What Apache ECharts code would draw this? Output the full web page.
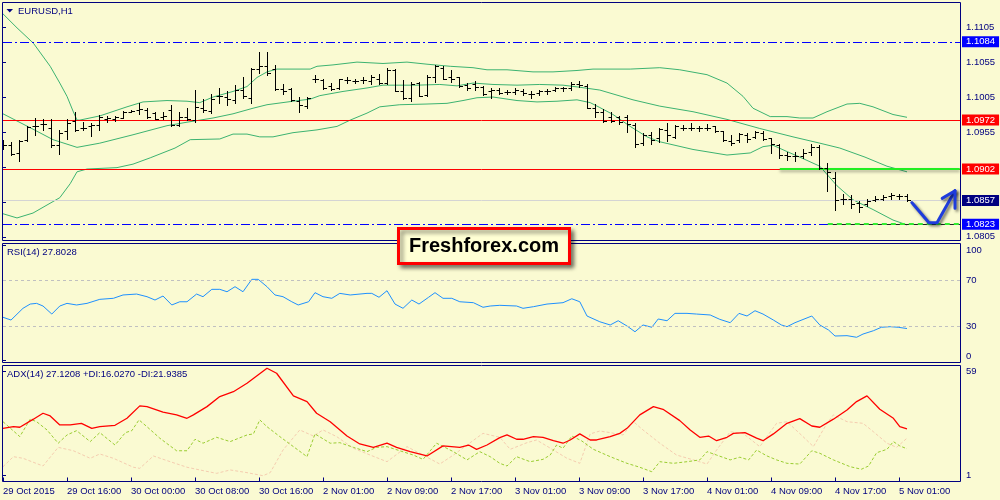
<!DOCTYPE html>
<html><head><meta charset="utf-8">
<script src="https://cdn.jsdelivr.net/npm/echarts@6.0.0/dist/echarts.min.js"></script>
<style>html,body{margin:0;padding:0;background:#FAFAD2}#c{width:1000px;height:500px}</style>
</head><body><div id="c"></div>
<script>
// ---- data ----
const tickLabels = ['29 Oct 2015','29 Oct 16:00','30 Oct 00:00','30 Oct 08:00','30 Oct 16:00','2 Nov 01:00','2 Nov 09:00','2 Nov 17:00','3 Nov 01:00','3 Nov 09:00','3 Nov 17:00','4 Nov 01:00','4 Nov 09:00','4 Nov 17:00','5 Nov 01:00'];
const opens = [
1.0935,1.0936,1.0925,1.0944,1.0964,1.0967,1.0960,1.0936,1.0956,1.0971,
1.0960,1.0964,1.0965,1.0974,1.0974,1.0975,1.0984,1.0987,1.0987,1.0982,
1.0977,1.0987,1.0965,1.0976,1.0972,1.0990,1.0985,1.1006,1.1005,1.1001,
1.1015,1.1003,1.1045,1.1050,1.1045,1.1016,1.1016,1.1000,1.0992,1.1031,
1.1030,1.1021,1.1018,1.1030,1.1028,1.1029,1.1028,1.1031,1.1025,1.1044,
1.1014,1.1003,1.1025,1.1008,1.1033,1.1047,1.1033,1.1033,1.1022,1.1023,
1.1020,1.1013,1.1015,1.1012,1.1012,1.1014,1.1009,1.1011,1.1013,1.1015,
1.1018,1.1018,1.1023,1.1021,1.0990,1.0983,1.0977,1.0976,1.0977,1.0965,
1.0939,1.0950,1.0946,1.0958,1.0948,1.0961,1.0961,1.0960,1.0961,1.0963,
1.0956,1.0942,1.0944,1.0950,1.0948,1.0953,1.0946,1.0937,1.0922,1.0921,
1.0920,1.0926,1.0934,1.0904,1.0889,1.0859,1.0859,1.0854,1.0852,1.0857,
1.0859,1.0863,1.0864,1.0864];
const highs = [
1.0944,1.0941,1.0944,1.0964,1.0975,1.0974,1.0973,1.0958,1.0974,1.0984,
1.0970,1.0968,1.0980,1.0978,1.0978,1.0985,1.0987,1.0996,1.0989,1.0984,
1.0984,1.0994,1.0983,1.0989,1.1015,1.1002,1.1010,1.1018,1.1014,1.1022,
1.1034,1.1046,1.1070,1.1070,1.1051,1.1023,1.1018,1.1005,1.1005,1.1036,
1.1031,1.1025,1.1031,1.1033,1.1031,1.1033,1.1036,1.1038,1.1047,1.1045,
1.1030,1.1027,1.1027,1.1037,1.1051,1.1049,1.1043,1.1034,1.1025,1.1028,
1.1021,1.1018,1.1018,1.1015,1.1018,1.1016,1.1013,1.1015,1.1017,1.1019,
1.1020,1.1026,1.1028,1.1023,1.0995,1.0988,1.0984,1.0978,1.0980,1.0968,
1.0953,1.0955,1.0961,1.0968,1.0965,1.0965,1.0968,1.0964,1.0966,1.0964,
1.0957,1.0950,1.0953,1.0953,1.0957,1.0956,1.0947,1.0938,1.0927,1.0927,
1.0931,1.0938,1.0936,1.0910,1.0898,1.0866,1.0865,1.0856,1.0859,1.0863,
1.0865,1.0868,1.0866,1.0866];
const lows = [
1.0930,1.0922,1.0914,1.0942,1.0951,1.0958,1.0934,1.0924,1.0945,1.0957,
1.0958,1.0949,1.0958,1.0970,1.0971,1.0975,1.0983,1.0981,1.0975,1.0973,
1.0974,1.0964,1.0964,1.0972,1.0970,1.0984,1.0982,1.0996,1.0994,1.0996,
1.1003,1.0997,1.1039,1.1037,1.1015,1.1010,1.1000,1.0984,1.0989,1.1027,
1.1017,1.1015,1.1017,1.1025,1.1025,1.1025,1.1023,1.1023,1.1023,1.1013,
1.1002,1.1000,1.1006,1.1006,1.1027,1.1031,1.1026,1.1020,1.1015,1.1015,
1.1008,1.1003,1.1009,1.1009,1.1009,1.1008,1.1004,1.1008,1.1009,1.1013,
1.1014,1.1015,1.1020,1.0989,1.0976,1.0970,1.0969,1.0966,1.0955,1.0934,
1.0937,1.0938,1.0941,1.0942,1.0946,1.0958,1.0958,1.0957,1.0958,1.0955,
1.0942,1.0937,1.0941,1.0941,1.0946,1.0944,1.0925,1.0918,1.0915,1.0914,
1.0918,1.0922,1.0902,1.0870,1.0843,1.0852,1.0846,1.0841,1.0849,1.0856,
1.0857,1.0859,1.0859,1.0856];
const closes = [
1.0936,1.0924,1.0942,1.0962,1.0963,1.0967,1.0936,1.0954,1.0968,1.0958,
1.0960,1.0965,1.0977,1.0975,1.0977,1.0984,1.0985,1.0988,1.0976,1.0974,
1.0978,1.0965,1.0977,1.0973,1.0991,1.0987,1.1002,1.1006,1.1002,1.1015,
1.1006,1.1045,1.1049,1.1039,1.1016,1.1014,1.1001,1.0994,1.1003,1.1031,
1.1018,1.1017,1.1031,1.1030,1.1028,1.1030,1.1033,1.1025,1.1044,1.1014,
1.1003,1.1023,1.1007,1.1034,1.1049,1.1031,1.1031,1.1021,1.1018,1.1020,
1.1009,1.1015,1.1011,1.1012,1.1015,1.1011,1.1009,1.1013,1.1014,1.1018,
1.1018,1.1023,1.1022,1.0990,1.0983,1.0971,1.0971,1.0970,1.0966,1.0938,
1.0951,1.0944,1.0959,1.0950,1.0963,1.0961,1.0961,1.0960,1.0961,1.0957,
1.0944,1.0939,1.0952,1.0945,1.0955,1.0945,1.0938,1.0922,1.0920,1.0921,
1.0925,1.0934,1.0904,1.0898,1.0858,1.0859,1.0852,1.0848,1.0856,1.0859,
1.0862,1.0865,1.0863,1.0857];

const upperBand = [[0,1.1124],[1.75,1.1104],[3.8,1.1082],[5.9,1.1049],[7.1,1.1025],[8,1.1006],[8.75,1.0985],[9.25,1.0972],[9.6,1.0972],[12.1,1.0978],[15.5,1.0991],[17.5,1.0998],[20.5,1.1000],[23,1.0999],[24.6,1.0997],[26.25,1.1005],[28.75,1.1013],[30.5,1.1020],[31.75,1.1033],[33,1.1041],[34.25,1.1045],[38.4,1.1045],[39.25,1.1049],[41.25,1.1051],[44.25,1.1055],[47.5,1.1053],[50.5,1.1055],[53,1.1052],[55.9,1.1049],[58.75,1.1047],[60.5,1.1044],[63,1.1044],[66.25,1.1041],[68.75,1.1041],[71.75,1.1043],[73.75,1.1045],[78.4,1.1045],[82.1,1.1047],[84.6,1.1044],[88,1.1037],[90.5,1.1025],[92.5,1.1006],[93.75,1.0989],[95.9,1.0977],[98,1.0977],[99.6,1.0975],[101.25,1.0975],[103,1.0984],[105.5,1.0995],[107.1,1.0996],[108.75,1.0991],[111.25,1.0980],[113,1.0976]];
const middleBand = [[0,1.0981],[3.75,1.0959],[6.25,1.0944],[9.25,1.0933],[12.1,1.0939],[16.25,1.0951],[20.5,1.0964],[23,1.0969],[26.25,1.0975],[28.75,1.0981],[31.25,1.0989],[33,1.0994],[36.25,1.0999],[38.4,1.1002],[39.6,1.1007],[42.5,1.1013],[45.5,1.1018],[47.5,1.1022],[51.75,1.1022],[54.6,1.1023],[56.75,1.1021],[58.75,1.1025],[61.25,1.1023],[64.25,1.1022],[67.1,1.1023],[70,1.1022],[72.1,1.1019],[74.6,1.1015],[78.75,1.1001],[82.1,1.0992],[86.25,1.0984],[90.5,1.0973],[94.6,1.0960],[98.75,1.0948],[102.1,1.0939],[104.6,1.0932],[107.75,1.0919],[110.5,1.0906],[113,1.0898]];
const lowerBand = [[0,1.0838],[1.75,1.0832],[3.75,1.0839],[7.1,1.0861],[8.4,1.0881],[9.25,1.0898],[10.5,1.0902],[14.25,1.0904],[16.25,1.0909],[18.4,1.0918],[21.5,1.0932],[23.4,1.0944],[27.1,1.0945],[28.75,1.0952],[30.5,1.0952],[32.1,1.0948],[33.75,1.0948],[36.25,1.0954],[39.25,1.0958],[41.75,1.0963],[43.4,1.0972],[45.5,1.0982],[47.1,1.0991],[49.6,1.0994],[53,1.0995],[55.5,1.0996],[57.5,1.1000],[59.25,1.1004],[61.25,1.1005],[64.25,1.1000],[66.75,1.0998],[69.25,1.0999],[71.75,1.1001],[73.4,1.0997],[74.6,1.0990],[76.25,1.0980],[78.4,1.0963],[80.5,1.0948],[82.1,1.0941],[86.25,1.0930],[90.5,1.0922],[93.4,1.0925],[95,1.0934],[96.25,1.0936],[98,1.0927],[99.6,1.0919],[102.1,1.0906],[104.25,1.0878],[106.25,1.0858],[108.75,1.0844],[111.25,1.0829],[113,1.0822]];

const rsi = [[0,37.6],[1,35.2],[2.5,45.4],[3.4,49.1],[4.2,49.7],[5,47.4],[6.1,40.4],[7.1,47.4],[8,49.7],[9.2,48.3],[10.5,49.7],[12.1,53.2],[13.8,54.1],[15,57.0],[16.7,57.8],[18,55.5],[19,52.6],[20,56.1],[21.1,48.3],[22.1,51.1],[23,51.1],[24.2,57.8],[25,55.5],[26.1,61.9],[27.1,61.9],[28,59.8],[29,64.2],[30,59.8],[31.1,70.6],[31.9,70.6],[33,64.2],[34,57.0],[35,55.5],[36.1,51.1],[36.9,48.3],[38.2,51.1],[39,59.0],[40,55.5],[41.1,54.1],[42.1,58.4],[43.4,57.0],[45.5,58.4],[46.1,58.4],[47,55.0],[48,60.7],[49,49.1],[50,45.4],[51.1,52.6],[52,49.1],[53.2,55.0],[54,59.0],[55,54.1],[56.1,54.1],[57.1,51.1],[58.8,50.3],[60,46.3],[60.9,47.4],[62.1,48.0],[64.2,47.4],[65,45.4],[66.3,46.8],[68,49.1],[70,50.3],[71.1,53.7],[72.1,51.1],[73,38.7],[74.6,33.7],[75.9,30.9],[76.9,34.6],[78,30.0],[79,25.0],[80,30.9],[81.1,28.9],[81.9,36.1],[83,34.6],[84,41.0],[85.5,41.0],[86.7,40.4],[88.4,39.6],[89.6,35.8],[90.9,32.9],[92,41.0],[93,38.7],[94,43.3],[95,40.4],[96.3,35.2],[97.3,30.9],[98,29.4],[99,32.9],[101.1,38.7],[102.1,30.9],[103.2,26.5],[104,21.3],[105.5,21.6],[106.7,20.2],[107.5,23.0],[108.8,25.9],[109.8,28.9],[110.9,29.4],[111.9,28.9],[113,27.8]];
const rsiLevels = [70, 30];

const adx = [[0,27.4],[1.3,28.3],[2.1,28.0],[3.8,32.5],[5,35.8],[5.9,34.3],[7.1,29.3],[8.4,29.3],[9.8,30.2],[11.1,27.4],[12.1,28.3],[14,29.1],[15.5,33.0],[17.1,39.9],[18,39.5],[20,36.4],[21.7,34.9],[23,33.0],[23.8,34.9],[25.5,39.5],[27.1,45.1],[28.8,47.8],[30.5,52.5],[33,60.9],[34.2,58.1],[36.3,45.5],[38,42.3],[39.2,35.8],[40.9,31.1],[43,23.1],[44.6,18.7],[46.3,16.8],[48,19.1],[49.2,16.8],[50.9,14.4],[53,12.0],[55,17.6],[57.1,16.8],[58.2,18.1],[59.2,15.7],[60.5,18.1],[62.1,22.2],[63,23.7],[64.2,21.3],[65,21.3],[66.3,22.8],[67.5,22.4],[68.8,20.5],[70,19.1],[70.9,20.9],[72.1,24.3],[73.4,20.9],[74.2,20.9],[75.9,22.8],[77.1,24.6],[78,27.4],[79.6,34.9],[81.3,39.5],[82.5,38.0],[84.6,31.7],[85.9,26.5],[87.1,22.4],[88.2,23.1],[89.2,20.5],[90.5,22.4],[91.3,24.6],[92.75,25.0],[94.2,21.9],[95,20.5],[96.3,24.3],[98,30.2],[99.6,32.8],[101.1,28.7],[102.1,28.0],[103.8,32.5],[105.5,37.6],[106.7,42.3],[108,45.5],[109.6,38.0],[111.3,33.0],[112.1,28.3],[113,27.1]];
const plusDI = [[0,31.1],[2.1,22.8],[3.4,32.5],[4.2,31.1],[5.5,26.5],[6.9,19.1],[8,23.7],[9.2,26.1],[10.9,20.0],[12.1,25.0],[14,18.1],[15.3,25.0],[16.1,26.1],[17,32.1],[18,28.3],[19.6,21.9],[21.7,14.9],[23,14.9],[24,21.3],[25,19.1],[26.7,22.4],[28.4,20.0],[30.5,23.7],[31.3,24.3],[32.1,32.1],[33,28.3],[34.6,22.8],[36.3,17.2],[38,11.6],[39,24.3],[40.9,19.1],[42.1,19.4],[43.8,16.8],[45.5,14.4],[46.7,16.8],[48,17.2],[49.6,14.9],[51.3,12.5],[52.5,10.1],[54.2,19.1],[56.3,14.4],[58,9.8],[59.6,14.4],[60.9,11.6],[62.1,7.9],[63,6.4],[64.2,11.6],[65.9,8.8],[67.5,10.1],[68.4,12.5],[69.2,18.1],[70,16.3],[71.1,23.1],[72.3,20.5],[73.8,15.7],[75.9,11.6],[78,7.9],[79.6,5.7],[81.1,3.2],[82.1,8.8],[83.8,7.9],[85.5,8.8],[87.1,9.8],[88,14.4],[89.2,12.5],[90.9,9.8],[92.1,11.3],[93.2,9.8],[94.2,15.3],[95.5,12.0],[96.7,9.8],[98,7.9],[99.6,7.5],[101.1,14.9],[102.1,13.5],[103.8,9.8],[105.9,6.0],[107.3,4.6],[108.2,6.4],[109.2,13.8],[110.5,15.7],[111.3,20.0],[112.1,17.6],[113,16.0]];
const minusDI = [[0,6.0],[1.3,11.6],[2.5,10.7],[5,6.4],[6.9,16.8],[8.8,14.9],[10.9,10.7],[12.1,13.1],[13.8,10.7],[16.3,5.7],[17.1,5.1],[18.8,12.0],[20.5,9.4],[23,5.7],[24.6,4.2],[26.7,2.3],[28.4,4.2],[30.5,2.7],[32.5,1.0],[33.4,2.7],[35,15.3],[37.1,26.5],[38.8,23.1],[40,26.5],[41.7,22.8],[43.8,16.3],[45.9,12.5],[48,8.8],[50.5,17.2],[52.5,12.5],[54.6,7.5],[56.3,12.5],[58,18.1],[60,24.6],[62.1,22.4],[63.4,15.7],[65.5,19.4],[66.7,20.9],[68.8,15.3],[70.5,10.7],[72.1,7.9],[73.4,24.3],[74.6,25.9],[75.9,25.0],[77.5,23.7],[78.8,31.1],[80,26.5],[82.1,19.1],[84.2,12.5],[86.3,9.8],[88,7.5],[89.2,15.3],[90.9,25.5],[92.5,24.6],[94.6,17.2],[95.5,22.8],[96.7,30.2],[98,31.1],[100,22.8],[101.3,17.2],[103,30.2],[103.8,34.9],[105.5,31.1],[107.5,30.2],[108.8,25.5],[110.5,19.1],[111.7,16.8],[113,21.9]];

const priceTicks = [1.0805,1.0855,1.0905,1.0955,1.1005,1.1055,1.1105];
const blueLevels = [1.1084, 1.0823];
const redLevels = [1.0972, 1.0902];
const lastPrice = 1.0857;
const greenSolid = [[97.1,1.0902],[119.6,1.0902]];
const greenDashed = [[103.1,1.0823],[119.6,1.0823]];
const arrowPath = [[113.6,1.0854],[115.75,1.0825],[116.75,1.0825],[119,1.0871]];
const arrowHead = [[117.4,1.0860],[119,1.0871],[119,1.0846]];

// ---- chart ----
const FONT = '"Liberation Sans", Arial, sans-serif';
const NAVY = '#000080';
const BG = '#FAFAD2';
const XMAX = 119.625;
const bars = opens.map((o,i)=>[i,o,highs[i],lows[i],closes[i]]);

function lvlLabel(txt,bg){
  return {show:true, position:'end', distance:2, formatter:txt, backgroundColor:bg, color:'#fff',
    fontFamily:FONT, fontSize:9.5, lineHeight:10, padding:[1,4,0,4]};
}
const mainMarks = [];
mainMarks.push({yAxis:lastPrice, lineStyle:{color:'#D4D4D4',width:1,type:'solid'}, label:lvlLabel(lastPrice.toFixed(4),'#000080')});
blueLevels.forEach(v=>mainMarks.push({yAxis:v, lineStyle:{color:'#0000FF',width:1,type:[9,3,2,3]}, label:lvlLabel(v.toFixed(4),'#0000FF')}));
redLevels.forEach(v=>mainMarks.push({yAxis:v, lineStyle:{color:'#FF0000',width:1,type:'solid'}, label:lvlLabel(v.toFixed(4),'#FF0000')}));
mainMarks.push([{coord:greenSolid[0], lineStyle:{color:'#22EE22',width:2,type:'solid',shadowBlur:3,shadowColor:'rgba(0,0,0,0.35)',shadowOffsetY:2}, label:{show:false}},{coord:greenSolid[1]}]);
mainMarks.push([{coord:greenDashed[0], lineStyle:{color:'#222',width:1,type:'solid'}, label:{show:false}},{coord:greenDashed[1]}]);
mainMarks.push([{coord:greenDashed[0], lineStyle:{color:'#33EE33',width:2,type:[5,4]}, label:{show:false}},{coord:greenDashed[1]}]);

const chart = echarts.init(document.getElementById('c'), null, {renderer:'canvas'});
const axisText = {color:NAVY, fontFamily:FONT, fontSize:9.5};
chart.setOption({
  animation:false,
  backgroundColor:BG,
  grid:[
    {left:3, top:2, width:957, height:239},
    {left:3, top:243, width:957, height:119},
    {left:3, top:365, width:957, height:116}
  ],
  xAxis:[
    {type:'value', gridIndex:0, min:0, max:XMAX, show:false},
    {type:'value', gridIndex:1, min:0, max:XMAX, show:false},
    {type:'value', gridIndex:2, min:0, max:XMAX, interval:8,
     axisLine:{show:false}, splitLine:{show:false},
     axisTick:{show:true, length:4, lineStyle:{color:NAVY}},
     axisLabel:Object.assign({align:'left', margin:5, showMaxLabel:false,
       formatter:v=>tickLabels[Math.round(v/8)]||''}, axisText)}
  ],
  yAxis:[
    {type:'value', gridIndex:0, position:'right', min:1.0799, max:1.1141, splitLine:{show:false}, axisLine:{show:false},
     axisTick:{show:true, length:3, customValues:priceTicks, lineStyle:{color:NAVY}},
     axisLabel:Object.assign({customValues:priceTicks, margin:6, formatter:v=>v.toFixed(4)}, axisText)},
    {type:'value', gridIndex:1, position:'right', min:-1.3, max:102.2, splitLine:{show:false}, axisLine:{show:false},
     axisTick:{show:true, length:3, customValues:[0,30,70,100], lineStyle:{color:NAVY}},
     axisLabel:Object.assign({customValues:[0,30,70,100], margin:6,
       formatter:v=> v===100?'{a|100}':(v===0?'{b|0}':String(v)),
       rich:{a:{padding:[9,0,0,0],color:NAVY,fontFamily:FONT,fontSize:9.5}, b:{padding:[0,0,9,0],color:NAVY,fontFamily:FONT,fontSize:9.5}}}, axisText)},
    {type:'value', gridIndex:2, position:'right', min:-1.96, max:62.7, splitLine:{show:false}, axisLine:{show:false},
     axisTick:{show:true, length:3, customValues:[1,59], lineStyle:{color:NAVY}},
     axisLabel:Object.assign({customValues:[1,59], margin:6}, axisText)}
  ],
  series:[
    {type:'line', name:'upper', xAxisIndex:0, yAxisIndex:0, data:upperBand, showSymbol:false, silent:true,
     lineStyle:{color:'#3CB371', width:1}, z:2},
    {type:'line', name:'middle', xAxisIndex:0, yAxisIndex:0, data:middleBand, showSymbol:false, silent:true,
     lineStyle:{color:'#3CB371', width:1}, z:2,
     markLine:{silent:true, precision:6, symbol:['none','none'], animation:false, data:mainMarks}},
    {type:'line', name:'lower', xAxisIndex:0, yAxisIndex:0, data:lowerBand, showSymbol:false, silent:true,
     lineStyle:{color:'#3CB371', width:1}, z:2},
    {type:'custom', name:'bars', xAxisIndex:0, yAxisIndex:0, data:bars, z:5, clip:true,
     encode:{x:0, y:[1,2,3,4]},
     renderItem:function(params, api){
       const i=api.value(0);
       const pH=api.coord([i,api.value(2)]), pL=api.coord([i,api.value(3)]);
       const pO=api.coord([i,api.value(1)]), pC=api.coord([i,api.value(4)]);
       const x=Math.round(pH[0])+0.5;
       const yO=Math.round(pO[1])+0.5, yC=Math.round(pC[1])+0.5;
       const st={stroke:'#000', lineWidth:1};
       return {type:'group', children:[
         {type:'line', shape:{x1:x,y1:Math.round(pH[1]),x2:x,y2:Math.round(pL[1])+1}, style:st},
         {type:'line', shape:{x1:x-3,y1:yO,x2:x,y2:yO}, style:st},
         {type:'line', shape:{x1:x,y1:yC,x2:x+3.5,y2:yC}, style:st}
       ]};
     }},
    {type:'line', name:'arrow', xAxisIndex:0, yAxisIndex:0, data:arrowPath, showSymbol:false, silent:true, z:8,
     lineStyle:{color:'#1E3CDC', width:3, cap:'round', join:'round', shadowBlur:3, shadowColor:'rgba(0,0,0,0.55)', shadowOffsetX:2, shadowOffsetY:2}},
    {type:'line', name:'arrowHead', xAxisIndex:0, yAxisIndex:0, data:arrowHead, showSymbol:false, silent:true, z:8,
     lineStyle:{color:'#1E3CDC', width:3, cap:'round', join:'round', shadowBlur:3, shadowColor:'rgba(0,0,0,0.55)', shadowOffsetX:2, shadowOffsetY:2}},
    {type:'line', name:'RSI', xAxisIndex:1, yAxisIndex:1, data:rsi, showSymbol:false, silent:true,
     lineStyle:{color:'#1E90FF', width:1}, z:3,
     markLine:{silent:true, precision:4, symbol:['none','none'], animation:false, label:{show:false},
       lineStyle:{color:'#C0C0C0', width:1, type:[3,3]}, data:rsiLevels.map(v=>({yAxis:v}))}},
    {type:'line', name:'-DI', xAxisIndex:2, yAxisIndex:2, data:minusDI, showSymbol:false, silent:true,
     lineStyle:{color:'#F5CDB0', width:1, type:[3,2]}, z:2},
    {type:'line', name:'+DI', xAxisIndex:2, yAxisIndex:2, data:plusDI, showSymbol:false, silent:true,
     lineStyle:{color:'#9ACD32', width:1, type:[3,2]}, z:3},
    {type:'line', name:'ADX', xAxisIndex:2, yAxisIndex:2, data:adx, showSymbol:false, silent:true,
     lineStyle:{color:'#FF0000', width:1.3}, z:4}
  ],
  graphic:[
    {type:'rect', silent:true, z:50, shape:{x:2.5,y:2.5,width:958,height:238}, style:{fill:null, stroke:NAVY, lineWidth:1}},
    {type:'rect', silent:true, z:50, shape:{x:2.5,y:243.5,width:958,height:119}, style:{fill:null, stroke:NAVY, lineWidth:1}},
    {type:'rect', silent:true, z:50, shape:{x:2.5,y:365.5,width:958,height:116}, style:{fill:null, stroke:NAVY, lineWidth:1}},
    {type:'polygon', silent:true, z:50, shape:{points:[[6.5,9],[13,9],[9.75,12.5]]}, style:{fill:NAVY}},
    {type:'text', silent:true, z:50, x:18, y:11, style:{text:'EURUSD,H1', fill:NAVY, font:'9.5px '+FONT, align:'left', verticalAlign:'middle', textAlign:'left', textVerticalAlign:'middle'}},
    {type:'text', silent:true, z:50, x:7, y:252.5, style:{text:'RSI(14) 27.8028', fill:NAVY, font:'9.5px '+FONT, align:'left', verticalAlign:'middle', textAlign:'left', textVerticalAlign:'middle'}},
    {type:'text', silent:true, z:50, x:7, y:374, style:{text:'ADX(14) 27.1208 +DI:16.0270 -DI:21.9385', fill:NAVY, font:'9.5px '+FONT, align:'left', verticalAlign:'middle', textAlign:'left', textVerticalAlign:'middle'}},
    {type:'rect', silent:true, z:60, shape:{x:398.5,y:228.5,width:171,height:35}, style:{fill:'#FFFFD4', stroke:'#FF0000', lineWidth:3, shadowBlur:4, shadowColor:'rgba(0,0,0,0.45)', shadowOffsetX:3, shadowOffsetY:3}},
    {type:'text', silent:true, z:61, x:484, y:246.5, style:{text:'Freshforex.com', fill:'#000', font:'bold 20px '+FONT, align:'center', verticalAlign:'middle', textAlign:'center', textVerticalAlign:'middle'}}
  ]
});
</script></body></html>
